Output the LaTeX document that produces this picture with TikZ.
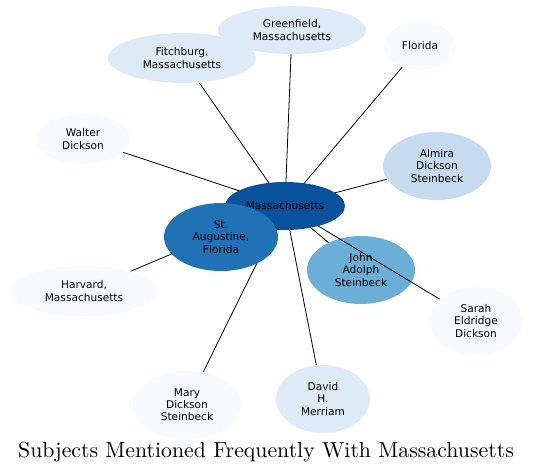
\documentclass[tikz,border=0pt]{standalone}
\usepackage{fontspec}
\newfontfamily\nodefont{DejaVu Sans}
\newfontfamily\titlefont{lmroman10-regular}[Extension=.otf]
\usetikzlibrary{shapes.geometric}
\pgfdeclarelayer{bg}
\pgfdeclarelayer{mid}
\pgfdeclarelayer{front}
\pgfsetlayers{bg,main,mid,front}
\definecolor{bA}{HTML}{F7FBFF}
\definecolor{bB}{HTML}{DEEBF7}
\definecolor{bC}{HTML}{C6DBEF}
\definecolor{bE}{HTML}{6BAED6}
\definecolor{bG}{HTML}{2171B5}
\definecolor{bH}{HTML}{08519C}
\tikzset{
  ent/.style={ellipse, draw=none, inner sep=0pt, align=center,
    font=\nodefont\fontsize{10.6}{12.2}\selectfont, text=black},
  link/.style={draw=black, line width=0.8pt}
}
\begin{document}
\begin{tikzpicture}[x=1pt,y=-1pt]
\useasboundingbox (0,0) rectangle (533,474);
% outer nodes
\node[ent, fill=bB, minimum width=148pt, minimum height=48pt] (green) at (292,30) {Greenfield,\\Massachusetts};
\node[ent, fill=bB, minimum width=148pt, minimum height=50pt] (fitch) at (182,58) {Fitchburg,\\Massachusetts};
\node[ent, fill=bA, minimum width=72pt, minimum height=48pt] (flor) at (420,46) {Florida};
\node[ent, fill=bA, minimum width=94pt, minimum height=50pt] (walt) at (83,139) {Walter\\Dickson};
\node[ent, fill=bC, minimum width=108pt, minimum height=68pt] (alm) at (437,166) {Almira\\Dickson\\Steinbeck};
\node[ent, fill=bA, minimum width=148pt, minimum height=50pt] (harv) at (84,291) {Harvard,\\Massachusetts};
\node[ent, fill=bA, minimum width=108pt, minimum height=68pt] (mary) at (187,405) {Mary\\Dickson\\Steinbeck};
\node[ent, fill=bB, minimum width=94pt, minimum height=68pt] (dav) at (323,399) {David\\H.\\Merriam};
\node[ent, fill=bA, minimum width=94pt, minimum height=68pt] (sar) at (476,321) {Sarah\\Eldridge\\Dickson};
\node[ent, fill=bE, minimum width=108pt, minimum height=68pt] (john) at (361,270) {John\\Adolph\\Steinbeck};
% central nodes
\begin{pgfonlayer}{front}
\node[ent, fill=bH, minimum width=120pt, minimum height=48pt] (mass) at (285,206) {Massachusetts};
\node[ent, fill=bG, minimum width=114pt, minimum height=68pt] (aug) at (221,237) {St.\\Augustine,\\Florida};
\end{pgfonlayer}
% edges
\begin{pgfonlayer}{bg}
\draw[link] (mass.center) -- (green);
\draw[link] (mass.center) -- (fitch);
\draw[link] (mass.center) -- (flor);
\draw[link] (mass.center) -- (walt);
\draw[link] (mass.center) -- (alm);
\draw[link] (mass.center) -- (harv);
\draw[link] (mass.center) -- (mary);
\draw[link] (mass.center) -- (dav);
\draw[link] (mass.center) -- (john);
\draw[link] (mass.center) -- (aug);
\end{pgfonlayer}
\begin{pgfonlayer}{mid}
\draw[link] (mass.center) -- (sar);
\end{pgfonlayer}
% title
\node[inner sep=0pt, font=\titlefont\fontsize{21.8}{26}\selectfont] (title) at (266,452) {Subjects Mentioned Frequently With Massachusetts};
\end{tikzpicture}
\end{document}
